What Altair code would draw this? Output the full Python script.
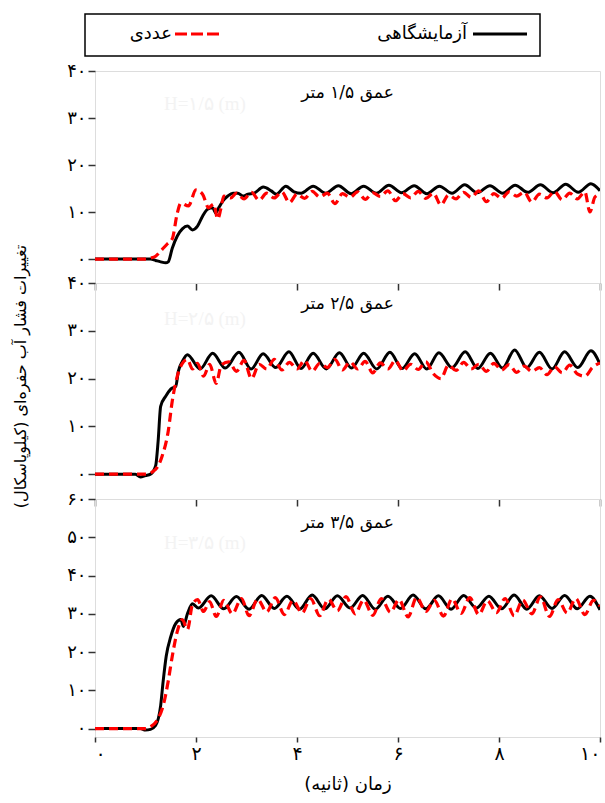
import altair as alt
import pandas as pd

# ---------------- data ----------------
# Panel 1: depth 1.5 m  -- experimental (black)
exp1_t = [0, 1.1, 1.2, 1.3, 1.4, 1.45, 1.53, 1.63, 1.73, 1.83, 1.93, 2.03, 2.13, 2.23, 2.33, 2.39,
          2.45, 2.53, 2.63, 2.73, 2.83, 2.93, 3.03, 3.15, 3.33, 3.49, 3.59, 3.78, 3.94, 4.08, 4.32,
          4.57, 4.82, 5.07, 5.32, 5.57, 5.82, 6.07, 6.32, 6.57, 6.82, 7.07, 7.32, 7.57, 7.82, 8.07,
          8.32, 8.57, 8.82, 9.07, 9.32, 9.57, 9.82, 10.0]
exp1_v = [0, 0, -0.3, -0.6, -0.8, -0.6, 2.3, 4.9, 6.4, 7.0, 6.2, 7.0, 9.1, 10.6, 10.9, 9.8,
          10.9, 12.3, 13.4, 14.0, 14.0, 13.4, 13.8, 14.0, 15.3, 14.5, 13.8, 15.5, 14.3, 14.0, 15.5,
          14.0, 15.6, 13.9, 15.5, 14.0, 15.7, 14.1, 15.6, 13.9, 15.5, 14.0, 15.8, 14.1, 15.6, 14.0,
          15.7, 14.2, 15.8, 14.1, 15.9, 14.2, 16.0, 14.5]
# Panel 1: numerical (red dashed)
num1_t = [0, 1.0, 1.1, 1.2, 1.3, 1.43, 1.53, 1.63, 1.7, 1.85, 2.0, 2.13, 2.25, 2.35, 2.43, 2.49,
          2.55, 2.69, 2.8, 2.95, 3.1, 3.25, 3.4, 3.55, 3.7, 3.85, 4.0, 4.15, 4.3, 4.45, 4.6, 4.75,
          4.9, 5.05, 5.2, 5.35, 5.5, 5.65, 5.8, 5.95, 6.1, 6.25, 6.4, 6.55, 6.7, 6.85, 7.0, 7.15,
          7.3, 7.45, 7.6, 7.75, 7.9, 8.05, 8.2, 8.35, 8.5, 8.65, 8.8, 8.95, 9.1, 9.25, 9.4, 9.55,
          9.7, 9.8, 9.9, 10.0]
num1_v = [0, 0, 0.2, 0.6, 1.7, 3.2, 4.3, 9.8, 11.9, 11.3, 14.7, 13.8, 10.9, 11.7, 8.5, 10.6,
          13.4, 13.0, 14.0, 12.8, 14.2, 12.5, 14.0, 13.0, 14.3, 12.0, 13.8, 12.9, 14.4, 13.2, 14.0, 11.8,
          13.9, 13.1, 14.3, 12.7, 14.1, 13.3, 14.5, 12.4, 13.9, 13.0, 14.4, 12.9, 14.0, 11.5, 13.6, 12.8,
          14.2, 13.1, 14.5, 12.2, 13.9, 12.9, 14.3, 13.4, 14.2, 12.1, 13.8, 13.0, 14.4, 12.6, 14.0, 12.8,
          14.3, 10.0, 13.2, 13.8]

# Panel 2: depth 2.5 m
exp2_t = [0, 0.8, 0.9, 1.0, 1.1, 1.2, 1.25, 1.3, 1.4, 1.5, 1.6, 1.65, 1.73, 1.83, 2.08, 2.33,
          2.58, 2.85, 3.09, 3.33, 3.58, 3.84, 4.08, 4.32, 4.58, 4.84, 5.08, 5.32, 5.58, 5.84, 6.08,
          6.33, 6.57, 6.81, 7.07, 7.33, 7.58, 7.83, 8.07, 8.31, 8.55, 8.80, 9.05, 9.3, 9.56, 9.82, 10.0]
exp2_v = [0, 0, -0.6, -0.3, 0, 1.7, 6.9, 14.2, 16.3, 17.8, 18.4, 21.5, 23.6, 25.0, 22.0, 25.3,
          22.2, 25.5, 22.0, 25.2, 22.3, 25.6, 22.1, 25.3, 22.0, 25.4, 22.2, 25.3, 22.0, 25.5, 22.1,
          25.2, 22.0, 25.4, 22.3, 25.6, 22.1, 25.3, 22.2, 26.0, 22.3, 25.5, 22.0, 25.6, 22.3, 25.8, 23.0]
num2_t = [0, 1.0, 1.2, 1.33, 1.45, 1.53, 1.63, 1.73, 1.83, 1.93, 2.03, 2.15, 2.27, 2.4, 2.5,
          2.65, 2.8, 2.95, 3.1, 3.25, 3.4, 3.55, 3.7, 3.85, 4.0, 4.15, 4.3, 4.45, 4.6, 4.75, 4.9,
          5.05, 5.2, 5.35, 5.5, 5.65, 5.8, 5.95, 6.1, 6.25, 6.4, 6.55, 6.7, 6.85, 7.0, 7.15, 7.3,
          7.45, 7.6, 7.75, 7.9, 8.05, 8.2, 8.35, 8.5, 8.65, 8.8, 8.95, 9.1, 9.25, 9.4, 9.55, 9.7,
          9.85, 10.0]
num2_v = [0, 0, 1.0, 3.8, 9.0, 15.3, 20.5, 23.2, 24.0, 22.0, 23.2, 20.5, 23.0, 19.0, 22.8,
          23.5, 21.5, 23.8, 20.0, 23.0, 22.0, 24.0, 21.8, 23.4, 22.0, 23.8, 21.5, 23.2, 22.3, 24.0, 21.8,
          23.5, 22.0, 23.6, 21.2, 23.3, 22.0, 23.8, 21.6, 23.0, 21.9, 23.5, 21.0, 20.0, 22.8, 21.7, 23.4,
          22.0, 23.0, 21.5, 23.2, 21.8, 22.9, 21.3, 22.6, 21.5, 22.3, 20.8, 22.5, 21.2, 22.8, 21.0, 20.5,
          22.3, 23.3]

# Panel 3: depth 3.5 m
exp3_t = [0, 0.9, 1.0, 1.1, 1.2, 1.3, 1.35, 1.41, 1.5, 1.6, 1.7, 1.75, 1.83, 1.93, 2.05, 2.3,
          2.55, 2.8, 3.05, 3.3, 3.55, 3.8, 4.05, 4.3, 4.55, 4.8, 5.05, 5.3, 5.55, 5.8, 6.05, 6.3,
          6.55, 6.8, 7.05, 7.3, 7.55, 7.8, 8.05, 8.3, 8.55, 8.8, 9.05, 9.3, 9.55, 9.8, 10.0]
exp3_v = [0, 0, -0.4, -0.2, 0.8, 6.0, 12.4, 18.9, 24.0, 27.5, 28.5, 26.7, 30.0, 32.6, 31.5, 34.7,
          31.3, 34.5, 31.2, 34.8, 31.4, 34.6, 31.2, 34.9, 31.3, 34.7, 31.5, 34.8, 31.2, 34.6, 31.4, 34.9,
          31.3, 34.7, 31.2, 34.8, 31.5, 34.6, 31.3, 34.9, 31.2, 34.7, 31.4, 34.8, 31.3, 34.6, 31.0]
num3_t = [0, 1.0, 1.1, 1.25, 1.35, 1.45, 1.53, 1.63, 1.73, 1.83, 1.93, 2.03, 2.15, 2.27, 2.4,
          2.55, 2.72, 2.9, 3.05, 3.22, 3.4, 3.57, 3.75, 3.92, 4.1, 4.27, 4.45, 4.62, 4.8, 4.97, 5.15,
          5.32, 5.5, 5.67, 5.85, 6.02, 6.2, 6.37, 6.55, 6.72, 6.9, 7.07, 7.25, 7.42, 7.6, 7.77, 7.95,
          8.12, 8.3, 8.47, 8.65, 8.82, 9.0, 9.17, 9.35, 9.52, 9.7, 9.87, 10.0]
num3_v = [0, 0, 0.5, 2.6, 6.0, 12.4, 18.9, 25.4, 28.5, 25.9, 32.4, 33.7, 30.6, 33.2, 29.3,
          33.5, 30.0, 34.0, 29.5, 33.8, 30.5, 34.2, 29.8, 33.5, 30.2, 34.0, 29.5, 33.8, 30.8, 34.5, 30.0,
          33.6, 29.6, 34.0, 30.4, 33.7, 29.2, 34.3, 30.6, 33.5, 29.4, 33.9, 30.1, 34.2, 29.8, 33.4, 30.3,
          34.0, 29.5, 33.6, 30.0, 34.4, 29.3, 33.7, 30.2, 34.0, 29.8, 33.5, 32.0]

series_names = ["exp", "num"]
legend_labels = ["آزمایشگاهی", "عددی"]
depth_labels = ["عمق ۱/۵ متر", "عمق ۲/۵ متر", "عمق ۳/۵ متر"]
ghost_labels = ["H=۱/۵ (m)", "H=۲/۵ (m)", "H=۳/۵ (m)"]
x_ticks = [0, 2, 4, 6, 8, 10]
y_ticks = [[0, 10, 20, 30, 40], [0, 10, 20, 30, 40], [0, 10, 20, 30, 40, 50, 60]]
y_domains = [[-5.1, 40], [-5.2, 40], [-2.2, 60]]
x_title = "زمان (ثانیه)"
y_title = "تغییرات فشار آب حفره\u200cای (کیلوپاسکال)"

rows = []
all_series = [(exp1_t, exp1_v, "exp", 0), (num1_t, num1_v, "num", 0),
              (exp2_t, exp2_v, "exp", 1), (num2_t, num2_v, "num", 1),
              (exp3_t, exp3_v, "exp", 2), (num3_t, num3_v, "num", 2)]
for ts, vs, s, p in all_series:
    for t, v in zip(ts, vs):
        rows.append({"t": t, "v": v, "series": s, "panel": p})
df = pd.DataFrame(rows)
one = pd.DataFrame({"a": [0]})

# ---------------- style ----------------
FONT = "DejaVu Sans"
W = 505
HEIGHTS = [212, 216, 238]
LABEL_Y = [22, 21, 24]
GHOST_Y = [33, 36, 44]
BORDER = "#333333"

fa_expr = "datum.label"
for i, d in enumerate("۰۱۲۳۴۵۶۷۸۹"):
    fa_expr = f"replace({fa_expr}, '{i}', '{d}')"


def panel(i):
    sub = df[df.panel == i]
    xa = dict(values=x_ticks, domain=False, tickSize=7, tickWidth=1.5, tickColor=BORDER,
              grid=False, labelExpr=fa_expr, labelFont=FONT, labelFontSize=19,
              labelColor="black", labelPadding=2)
    if i < 2:
        xa["labels"] = False
        xa["title"] = ""
    else:
        xa["tickSize"] = 5
        xa.update(title=x_title, titleFont=FONT, titleFontSize=18, titleFontWeight="normal",
                  titleColor="black", titlePadding=12)
    ya = dict(values=y_ticks[i], domain=False, tickSize=7, tickWidth=1.5, tickColor=BORDER,
              grid=False, labelExpr=fa_expr, labelFont=FONT, labelFontSize=18,
              labelColor="black", labelPadding=2)
    if i == 1:
        ya.update(title=y_title, titleFont=FONT, titleFontSize=16, titleFontWeight="normal",
                  titleColor="black", titleX=-75, titleY=93, titleAngle=270,
                  titleAlign="center", titleBaseline="middle")
    else:
        ya["title"] = ""
    base = alt.Chart(sub).encode(
        x=alt.X("t:Q", scale=alt.Scale(domain=[0, 10], nice=False, zero=False), axis=alt.Axis(**xa)),
        y=alt.Y("v:Q", scale=alt.Scale(domain=y_domains[i], nice=False, zero=False), axis=alt.Axis(**ya)),
    )
    black = base.transform_filter(alt.datum.series == series_names[0]).mark_line(
        color="black", strokeWidth=3, clip=True, interpolate="monotone")
    red = base.transform_filter(alt.datum.series == series_names[1]).mark_line(
        color="#ff0000", strokeWidth=3.2, strokeDash=[9, 5], clip=True, interpolate="monotone")
    ghost = alt.Chart(one).mark_text(text=ghost_labels[i], font="Liberation Serif", fontSize=19,
                                     color="#f3f3f3").encode(
        x=alt.value(110), y=alt.value(GHOST_Y[i]))
    lab = alt.Chart(one).mark_text(text=depth_labels[i], font=FONT, fontSize=17,
                                   color="black").encode(
        x=alt.value(W / 2), y=alt.value(LABEL_Y[i]))
    layers = [ghost, black, red, lab]
    if i == 0:
        box = alt.Chart(one).mark_rect(fill="white", stroke="black", strokeWidth=1.5).encode(
            x=alt.value(-10), x2=alt.value(445), y=alt.value(-57), y2=alt.value(-15))
        l_black = alt.Chart(one).mark_rule(color="black", strokeWidth=3).encode(
            x=alt.value(378), x2=alt.value(432), y=alt.value(-37))
        l_red = alt.Chart(one).mark_rule(color="#ff0000", strokeWidth=3, strokeDash=[12, 4]).encode(
            x=alt.value(80), x2=alt.value(127), y=alt.value(-37))
        t_black = alt.Chart(one).mark_text(text=legend_labels[0], font=FONT, fontSize=18,
                                           align="right", color="black").encode(
            x=alt.value(372), y=alt.value(-37))
        t_red = alt.Chart(one).mark_text(text=legend_labels[1], font=FONT, fontSize=18,
                                         align="right", color="black").encode(
            x=alt.value(77), y=alt.value(-37))
        layers = [box, l_black, l_red, t_black, t_red] + layers
    return alt.layer(*layers).properties(width=W, height=HEIGHTS[i])


chart = alt.vconcat(panel(0), panel(1), panel(2), spacing=0, bounds="flush").properties(
    padding={"left": 11, "top": 12, "right": 0, "bottom": 5}
).configure_view(stroke=BORDER, strokeWidth=1.5).configure(background="white")

chart.save("out.html", embed_options={"renderer": "svg", "actions": False})
